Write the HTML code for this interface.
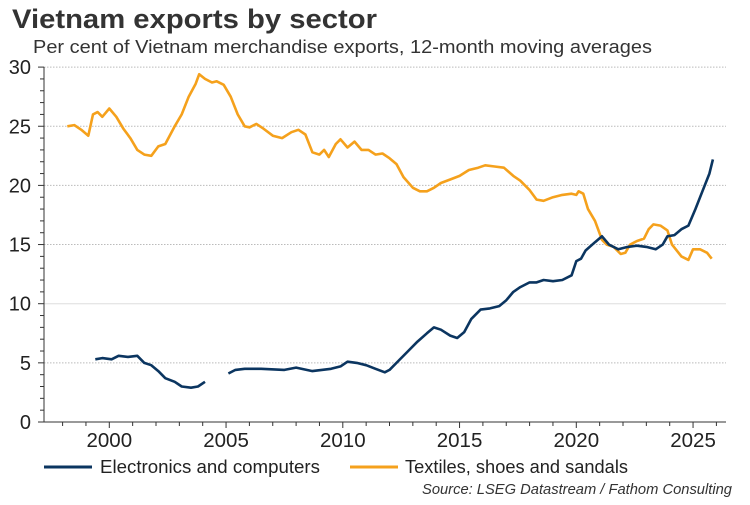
<!DOCTYPE html>
<html><head><meta charset="utf-8"><style>
body{margin:0;background:#fff;width:750px;height:500px;overflow:hidden;font-family:"Liberation Sans",Arial,sans-serif}
</style></head><body>
<svg id="s" width="750" height="500" xmlns="http://www.w3.org/2000/svg" font-family="Liberation Sans, Arial, sans-serif">
<text x="12" y="28" font-size="27" font-weight="bold" fill="#333" textLength="365" lengthAdjust="spacingAndGlyphs">Vietnam exports by sector</text>
<text x="33" y="53" font-size="18" fill="#333" textLength="619" lengthAdjust="spacingAndGlyphs">Per cent of Vietnam merchandise exports, 12-month moving averages</text>
<g id="grid"></g>
<g id="ax"></g>
<path id="o" fill="none" stroke="#f5a11c" stroke-width="2.6" stroke-linejoin="round"/>
<path id="n" fill="none" stroke="#0b3560" stroke-width="2.6" stroke-linejoin="round"/>
<line x1="44" y1="467" x2="92" y2="467" stroke="#0b3560" stroke-width="3"/>
<text x="100" y="473" font-size="18" fill="#222" textLength="220" lengthAdjust="spacingAndGlyphs">Electronics and computers</text>
<line x1="350" y1="467" x2="398" y2="467" stroke="#f5a11c" stroke-width="3"/>
<text x="405" y="473" font-size="18" fill="#222" textLength="223" lengthAdjust="spacingAndGlyphs">Textiles, shoes and sandals</text>
<text x="732" y="494" font-size="15" font-style="italic" fill="#333" text-anchor="end" textLength="310" lengthAdjust="spacingAndGlyphs">Source: LSEG Datastream / Fathom Consulting</text>
</svg>
<script>
var X=function(y){return 109.3+(y-2000)*23.35},Y=function(v){return 422-v*11.83};
var g='',a='';
for(var v=5;v<=30;v+=5){g+='<line x1="44" x2="726" y1="'+Y(v)+'" y2="'+Y(v)+'" stroke="'+(v==10?'#ddd':'#bbb')+'" stroke-width="1" '+(v==10?'':'stroke-dasharray="1.5 1.5"')+'/>';}
for(var v=0;v<=30;v+=5){a+='<text x="31" y="'+(Y(v)+7)+'" font-size="20" fill="#222" text-anchor="end">'+v+'</text>';}
for(var v=0;v<=30;v++){a+='<line x1="'+(v%5?40:38)+'" x2="44" y1="'+Y(v)+'" y2="'+Y(v)+'" stroke="#333"/>';}
for(var yr=1998;yr<=2026;yr++){a+='<line x1="'+X(yr)+'" x2="'+X(yr)+'" y1="422" y2="'+(yr%5?426:428)+'" stroke="#333"/>';}
for(var yr=2000;yr<=2025;yr+=5){a+='<text x="'+X(yr)+'" y="447" font-size="20.5" fill="#222" text-anchor="middle">'+yr+'</text>';}
a+='<line x1="44" x2="44" y1="67" y2="422" stroke="#333"/><line x1="44" x2="726" y1="422" y2="422" stroke="#333"/>';
document.getElementById('grid').innerHTML=g;document.getElementById('ax').innerHTML=a;
var O=[1998.2,25.0,1998.5,25.1,1998.8,24.7,1999.1,24.2,1999.3,26.0,1999.5,26.2,1999.7,25.8,2000.0,26.5,2000.3,25.8,2000.6,24.8,2000.9,24.0,2001.2,23.0,2001.5,22.6,2001.8,22.5,2002.1,23.3,2002.4,23.5,2002.8,25.0,2003.1,26.0,2003.4,27.5,2003.7,28.6,2003.85,29.4,2004.1,29.0,2004.4,28.7,2004.6,28.8,2004.9,28.5,2005.2,27.5,2005.5,26.0,2005.8,25.0,2006.0,24.9,2006.3,25.2,2006.6,24.8,2007.0,24.2,2007.4,24.0,2007.8,24.5,2008.1,24.7,2008.4,24.3,2008.7,22.8,2009.0,22.6,2009.2,23.0,2009.4,22.4,2009.7,23.5,2009.9,23.9,2010.2,23.2,2010.5,23.7,2010.8,23.0,2011.1,23.0,2011.4,22.6,2011.7,22.7,2012.0,22.3,2012.3,21.8,2012.6,20.7,2013.0,19.8,2013.3,19.5,2013.6,19.5,2013.9,19.8,2014.2,20.2,2014.6,20.5,2015.0,20.8,2015.4,21.3,2015.8,21.5,2016.1,21.7,2016.5,21.6,2016.9,21.5,2017.3,20.8,2017.6,20.4,2018.0,19.6,2018.3,18.8,2018.6,18.7,2019.0,19.0,2019.4,19.2,2019.8,19.3,2020.0,19.2,2020.1,19.5,2020.3,19.3,2020.5,18.0,2020.8,17.0,2021.1,15.4,2021.3,15.0,2021.6,14.8,2021.9,14.2,2022.1,14.3,2022.3,15.0,2022.6,15.3,2022.9,15.5,2023.1,16.3,2023.3,16.7,2023.6,16.6,2023.9,16.2,2024.1,15.0,2024.5,14.0,2024.8,13.7,2025.0,14.6,2025.3,14.6,2025.6,14.3,2025.8,13.8];
var N=[1999.4,5.3,1999.7,5.4,2000.1,5.3,2000.4,5.6,2000.8,5.5,2001.2,5.6,2001.5,5.0,2001.8,4.8,2002.1,4.3,2002.4,3.7,2002.8,3.4,2003.1,3.0,2003.5,2.9,2003.8,3.0,2004.1,3.4,null,null,2005.1,4.1,2005.4,4.4,2005.8,4.5,2006.5,4.5,2007.5,4.4,2008.0,4.6,2008.7,4.3,2009.5,4.5,2009.9,4.7,2010.2,5.1,2010.6,5.0,2011.0,4.8,2011.4,4.5,2011.8,4.2,2012.0,4.4,2012.4,5.2,2012.8,6.0,2013.2,6.8,2013.6,7.5,2013.9,8.0,2014.2,7.8,2014.6,7.3,2014.9,7.1,2015.2,7.6,2015.5,8.7,2015.9,9.5,2016.3,9.6,2016.7,9.8,2017.0,10.3,2017.3,11.0,2017.6,11.4,2018.0,11.8,2018.3,11.8,2018.6,12.0,2019.0,11.9,2019.4,12.0,2019.8,12.4,2020.0,13.6,2020.2,13.8,2020.4,14.5,2020.8,15.2,2021.1,15.7,2021.4,15.0,2021.8,14.6,2022.2,14.8,2022.6,14.9,2023.0,14.8,2023.4,14.6,2023.7,15.0,2023.9,15.7,2024.2,15.8,2024.5,16.3,2024.8,16.6,2025.1,18.0,2025.4,19.5,2025.7,21.0,2025.85,22.2];
function P(d){var s='',m=true;for(var i=0;i<d.length;i+=2){if(d[i]===null){m=true;continue;}s+=(m?'M':'L')+X(d[i]).toFixed(1)+' '+Y(d[i+1]).toFixed(1);m=false;}return s;}
document.getElementById('o').setAttribute('d',P(O));document.getElementById('n').setAttribute('d',P(N));
</script>
</body></html>
